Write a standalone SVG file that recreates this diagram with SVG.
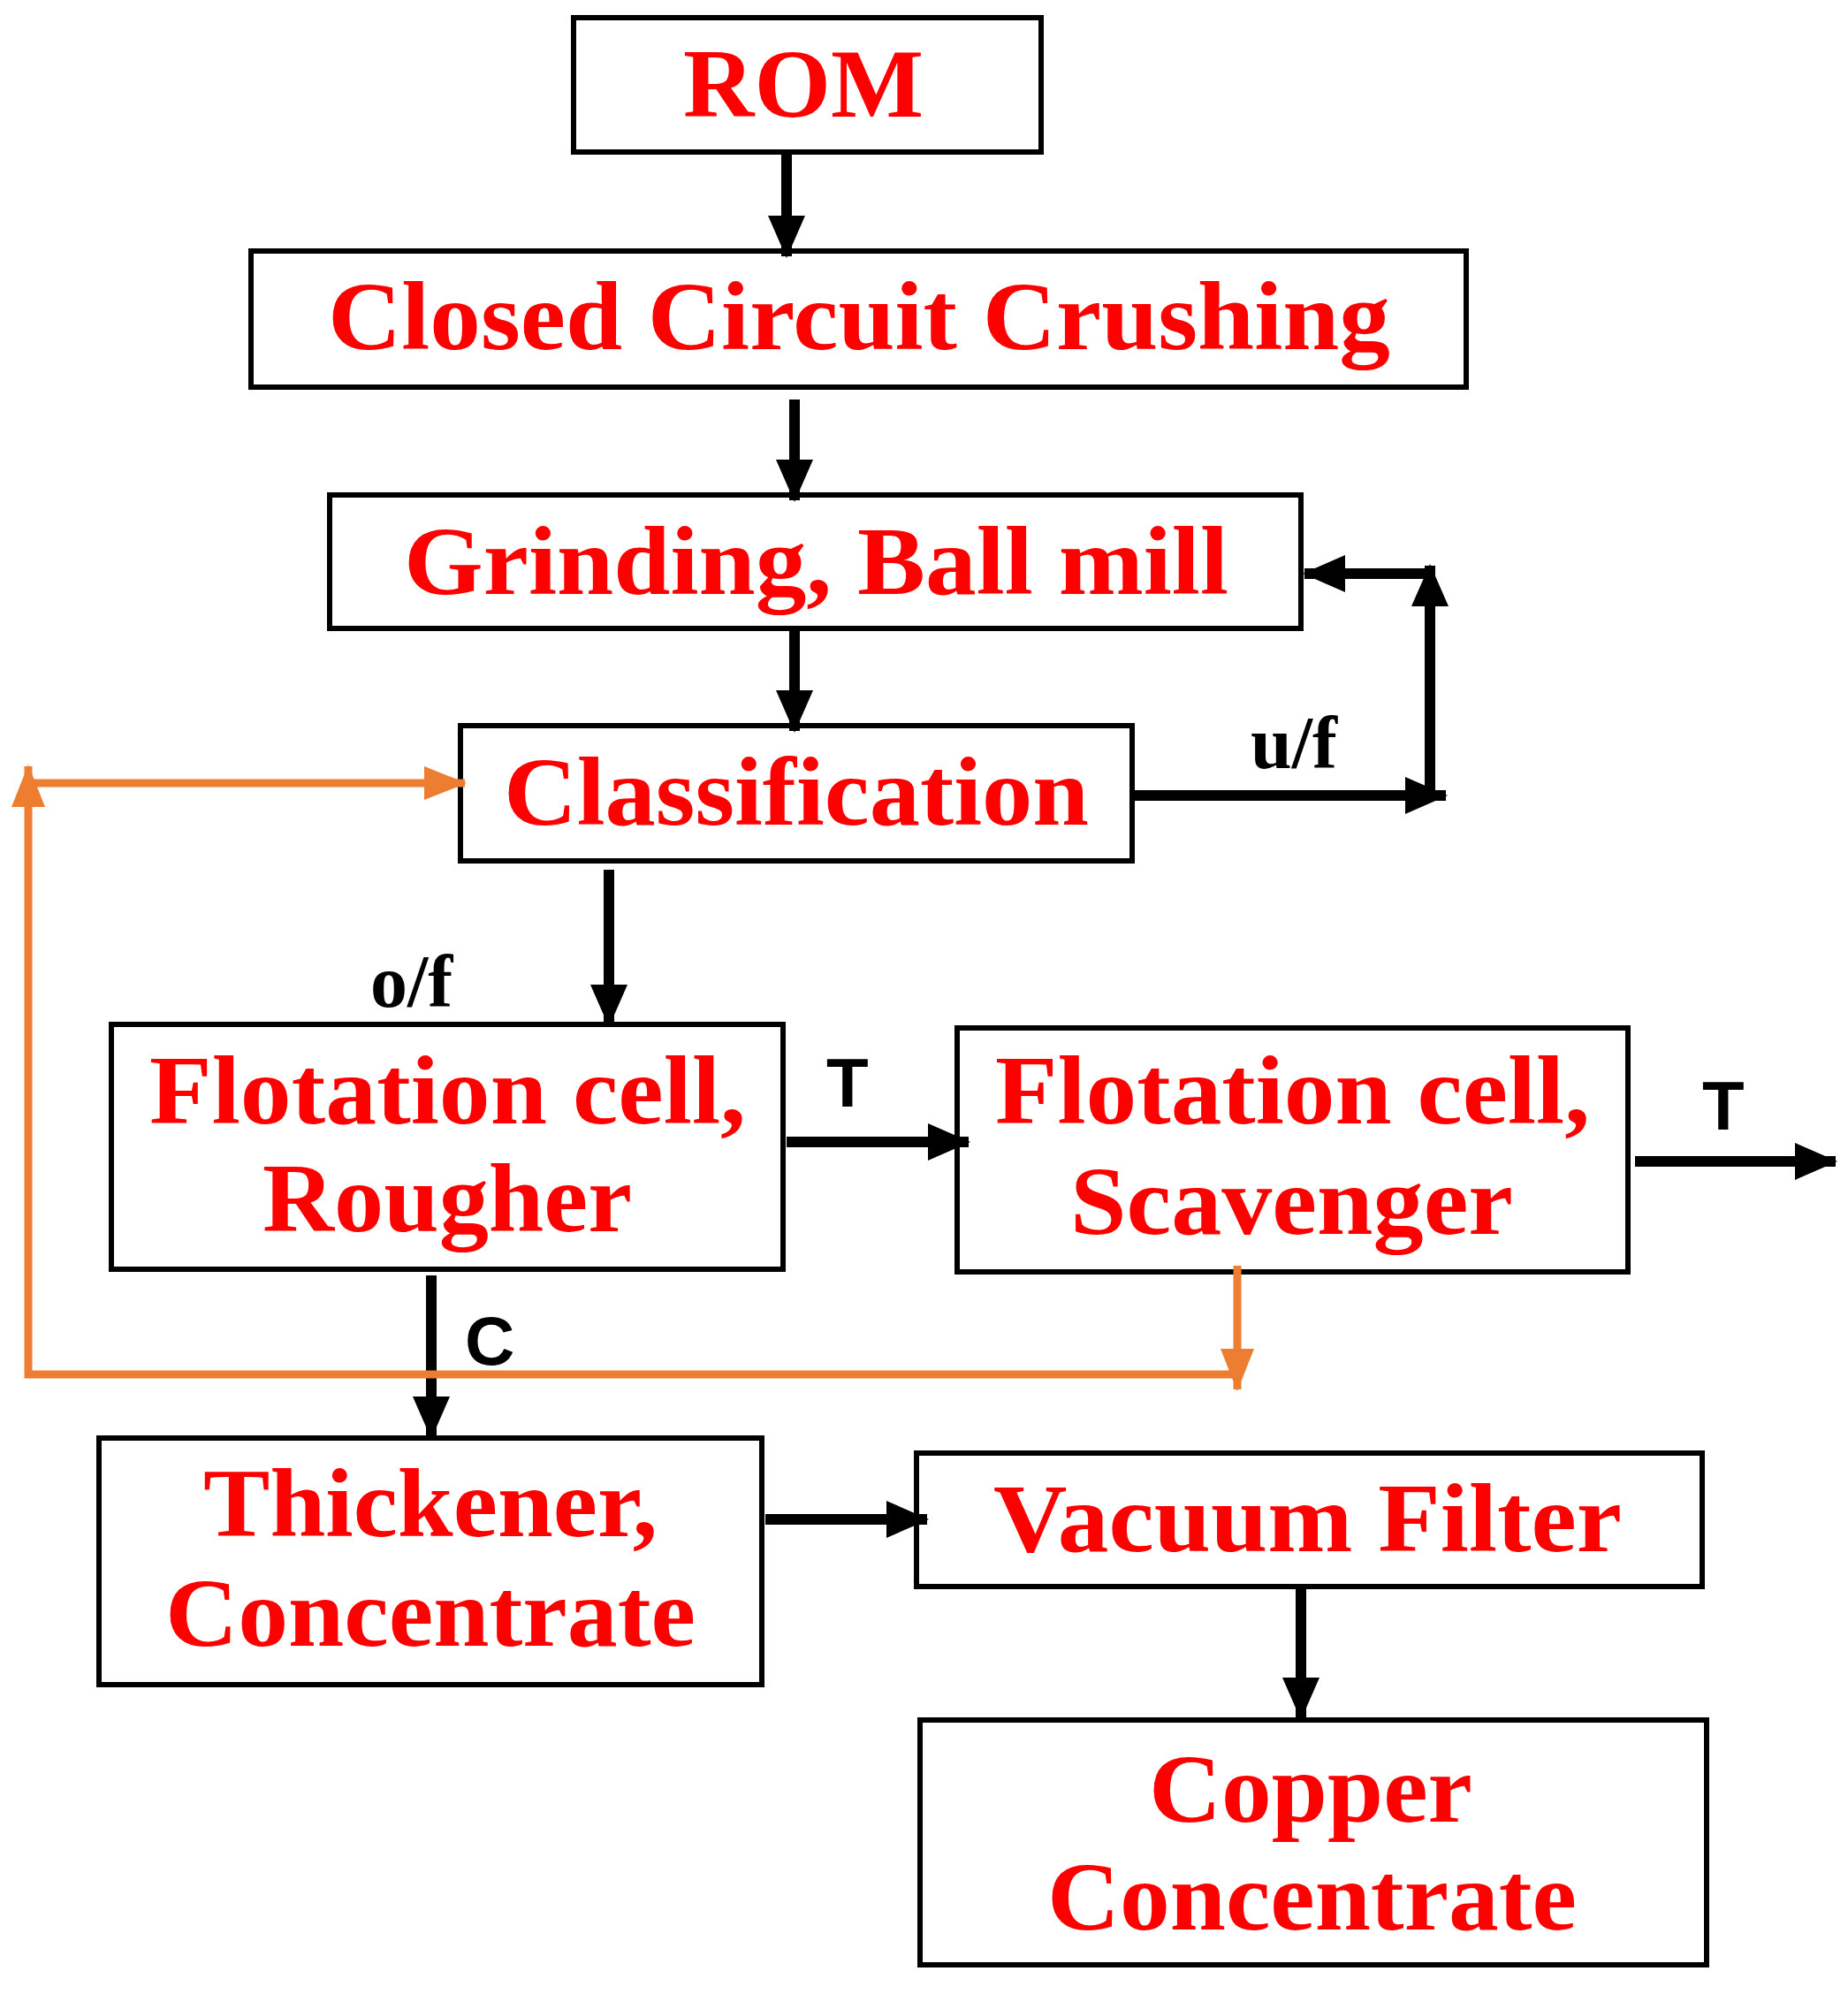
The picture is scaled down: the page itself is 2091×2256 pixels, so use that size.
<svg xmlns="http://www.w3.org/2000/svg" width="2091" height="2256" viewBox="0 0 2091 2256">
<style>
.box{fill:#fff;stroke:#000;stroke-width:6}
.t{font-family:"Liberation Serif",serif;font-weight:bold;font-size:110px;fill:#ff0000;text-anchor:start}
.lb{font-family:"Liberation Serif",serif;font-weight:bold;font-size:84px;fill:#000}
.ls{font-family:"Liberation Sans",sans-serif;font-weight:bold;font-size:78px;fill:#000}
.k{stroke:#000;stroke-width:12;fill:none}
.o{stroke:#ED7D31;stroke-width:9;fill:none}
</style>
<defs>
<marker id="ak" markerUnits="userSpaceOnUse" markerWidth="50" markerHeight="50" refX="46" refY="25" orient="auto"><path d="M0,4 L48,25 L0,46 Z" fill="#000"/></marker>
<marker id="ao" markerUnits="userSpaceOnUse" markerWidth="50" markerHeight="50" refX="46" refY="25" orient="auto"><path d="M0,6 L48,25 L0,44 Z" fill="#ED7D31"/></marker>
</defs>
<rect width="2091" height="2256" fill="#fff"/>
<g id="rom"><rect class="box" x="649" y="20" width="529" height="152"/><text class="t" x="773" y="132" textLength="272" lengthAdjust="spacingAndGlyphs">ROM</text></g>
<g id="crushing"><rect class="box" x="284" y="284" width="1375" height="154"/><text class="t" x="371" y="395" textLength="1202" lengthAdjust="spacingAndGlyphs">Closed Circuit Crushing</text></g>
<g id="grinding"><rect class="box" x="373" y="560" width="1099" height="151"/><text class="t" x="457" y="672" textLength="933" lengthAdjust="spacingAndGlyphs">Grinding, Ball mill</text></g>
<g id="classification"><rect class="box" x="521" y="821" width="760" height="153"/><text class="t" x="570" y="933" textLength="662" lengthAdjust="spacingAndGlyphs">Classification</text></g>
<g id="rougher"><rect class="box" x="126" y="1159" width="760" height="277"/><text class="t" x="169" y="1271" textLength="675" lengthAdjust="spacingAndGlyphs">Flotation cell,</text><text class="t" x="297" y="1393" textLength="418" lengthAdjust="spacingAndGlyphs">Rougher</text></g>
<g id="scavenger"><rect class="box" x="1083" y="1163" width="759" height="276"/><text class="t" x="1126" y="1271" textLength="673" lengthAdjust="spacingAndGlyphs">Flotation cell,</text><text class="t" x="1211" y="1396" textLength="501" lengthAdjust="spacingAndGlyphs">Scavenger</text></g>
<g id="thickener"><rect class="box" x="112" y="1627" width="750" height="279"/><text class="t" x="230" y="1738" textLength="514" lengthAdjust="spacingAndGlyphs">Thickener,</text><text class="t" x="187" y="1862" textLength="600" lengthAdjust="spacingAndGlyphs">Concentrate</text></g>
<g id="vacuum"><rect class="box" x="1037" y="1644" width="889" height="151"/><text class="t" x="1124" y="1755" textLength="711" lengthAdjust="spacingAndGlyphs">Vacuum Filter</text></g>
<g id="copper"><rect class="box" x="1041" y="1946" width="890" height="277"/><text class="t" x="1300" y="2061" textLength="366" lengthAdjust="spacingAndGlyphs">Copper</text><text class="t" x="1185" y="2183" textLength="599" lengthAdjust="spacingAndGlyphs">Concentrate</text></g>
<g id="connectors">
<line class="k" x1="890" y1="172" x2="890" y2="290" marker-end="url(#ak)"/>
<line class="k" x1="899" y1="452" x2="899" y2="566" marker-end="url(#ak)"/>
<line class="k" x1="899" y1="711" x2="899" y2="827" marker-end="url(#ak)"/>
<line class="k" x1="1281" y1="900" x2="1636" y2="900" marker-end="url(#ak)"/>
<line class="k" x1="1618" y1="906" x2="1618" y2="640" marker-end="url(#ak)"/>
<line class="k" x1="1618" y1="649" x2="1476" y2="649" marker-end="url(#ak)"/>
<line class="k" x1="689" y1="984" x2="689" y2="1160" marker-end="url(#ak)"/>
<line class="k" x1="890" y1="1292" x2="1096" y2="1292" marker-end="url(#ak)"/>
<line class="k" x1="1850" y1="1314" x2="2077" y2="1314" marker-end="url(#ak)"/>
<line class="k" x1="488" y1="1443" x2="488" y2="1626" marker-end="url(#ak)"/>
<line class="k" x1="866" y1="1719" x2="1049" y2="1719" marker-end="url(#ak)"/>
<line class="k" x1="1472" y1="1795" x2="1472" y2="1944" marker-end="url(#ak)"/>
<line class="o" x1="1400" y1="1432" x2="1400" y2="1572" marker-end="url(#ao)"/>
<polyline class="o" points="1400,1555 32,1555 32,867" marker-end="url(#ao)"/>
<line class="o" x1="28" y1="886" x2="526" y2="886" marker-end="url(#ao)"/>
<text class="lb" x="1415" y="869">u/f</text>
<text class="lb" x="419" y="1139">o/f</text>
<text class="ls" x="935" y="1252">T</text>
<text class="ls" x="1926" y="1278">T</text>
<text class="ls" x="526" y="1544">C</text>
</g>
</svg>
